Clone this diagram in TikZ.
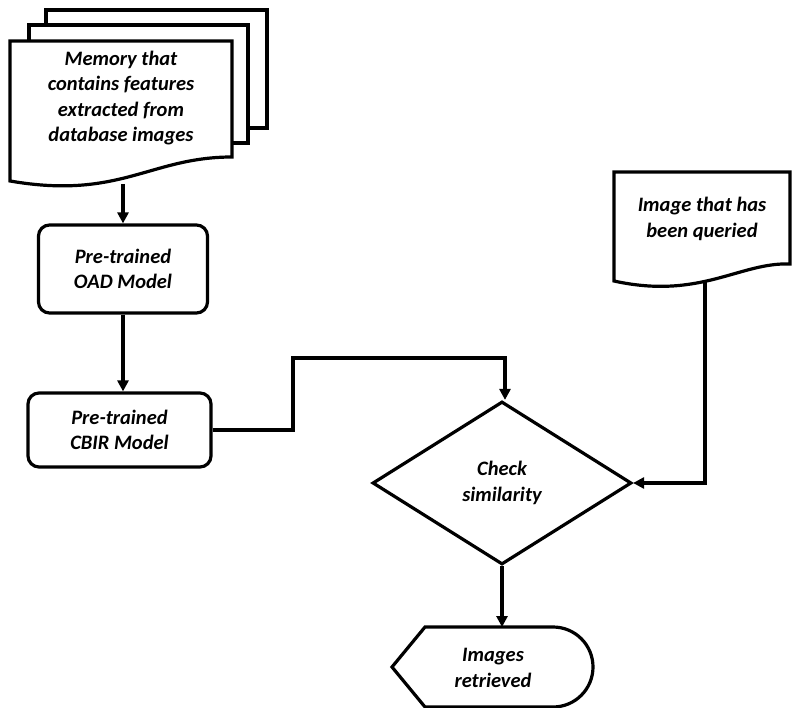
\documentclass[tikz,border=0pt]{standalone}
\usepackage{fontspec}
\setmainfont{Carlito}
\newfontfamily\calbi{Carlito Bold Italic}
\usetikzlibrary{shapes.geometric,arrows.meta}
\begin{document}
\begin{tikzpicture}[x=1pt,y=-1pt,
  ln/.style={line width=3.2pt},
  arr/.style={ln,-{Triangle[length=11pt,width=11pt]}},
  txt/.style={font=\calbi\fontsize{20.5}{25.5}\selectfont,align=center},
  procbox/.style={draw,ln,rounded corners=11pt,fill=white,txt,inner sep=0pt}]
\useasboundingbox (0,0) rectangle (795,708);
% stacked documents
\draw[ln,fill=white] (46,10) rectangle (267,128);
\draw[ln,fill=white] (29,25) rectangle (248,143);
\draw[ln,fill=white,line join=miter] (10,41) -- (232,41) -- (232,157)
  .. controls (150,157) and (120,200) .. (10,181) -- cycle;
\node[txt] (mem) at (121,98) {Memory that\\contains features\\extracted from\\database images};
\coordinate (memb) at (123,184);
% query document
\draw[ln,fill=white,line join=miter] (614,172) -- (790,172) -- (790,264)
  .. controls (740,262) and (700,300) .. (614,281) -- cycle;
\node[txt] (qry) at (702,219) {Image that has\\been queried};
\coordinate (qryb) at (705,280);
% process boxes
\node[procbox,minimum width=169pt,minimum height=88pt] (oad) at (123,269) {Pre-trained\\OAD Model};
\node[procbox,minimum width=183pt,minimum height=74pt] (cbir) at (119.5,430) {Pre-trained\\CBIR Model};
% decision
\node[draw,ln,diamond,minimum width=259pt,minimum height=163pt,inner sep=0pt,txt,line join=miter] (chk) at (502,483) {Check\\similarity};
% display
\draw[ln,fill=white,line join=miter] (392,667) -- (425,627) -- (553,627)
  arc[start angle=-90,end angle=90,x radius=40,y radius=40] -- (425,707) -- cycle;
\node[txt] (ret) at (493,668) {Images\\retrieved};
\coordinate (rett) at (502,627);
% connectors
\draw[arr] (memb) -- (oad.north -| memb);
\draw[arr] (oad.south) -- (cbir.north -| oad.south);
\coordinate (c1) at (293,430);
\coordinate (c2) at (293,358);
\coordinate (c3) at (505,358);
\draw[arr] (cbir.east) -- (c1) -- (c2) -- (c3) -- (chk.north -| c3);
\draw[arr] (qryb) |- (chk.east);
\draw[arr] (chk.south) -- (rett);
\end{tikzpicture}
\end{document}
